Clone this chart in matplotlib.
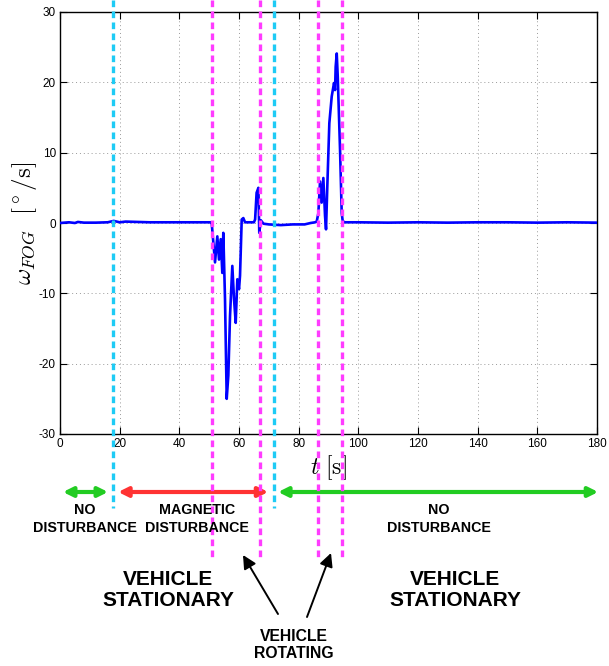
import numpy as np
import matplotlib
matplotlib.use("Agg")
import matplotlib.pyplot as plt
import matplotlib.transforms as mtransforms

# gyro rate (time in s, rate in deg/s)
t = [0, 3, 5, 6, 8, 12, 16, 18, 18.5, 20, 22, 30, 40, 50.5,
     50.85, 51.96, 52.73, 53.30, 53.87, 54.41, 54.74, 55.31, 55.88, 56.42,
     56.99, 57.76, 58.33, 58.90, 59.44, 60.01, 60.34, 60.91, 61.45, 62.02,
     65.0, 65.4, 65.9, 66.5, 66.8, 67.3, 68.2, 70, 74, 78, 80, 82, 84, 85.5,
     86.05, 86.6, 87.16, 87.7, 88.27, 88.84, 89.17, 89.6, 90.28, 91.08,
     91.85, 92.2, 92.4, 92.76, 93.1, 93.87, 94.43, 94.77, 95.5,
     100, 110, 120, 130, 140, 150, 160, 170, 180]
w = [0.0, 0.1, 0.0, 0.15, 0.05, 0.05, 0.1, 0.3, 0.25, 0.1, 0.2, 0.1, 0.1, 0.1,
     0.0, -5.6, -1.9, -5.2, -2.3, -7.1, -1.4, -10.8, -25.0, -21.7,
     -13.2, -6.1, -10.8, -14.2, -8.0, -9.4, -7.5, 0.5, 0.7, 0.1,
     0.1, 0.5, 4.3, 5.0, -1.4, 0.4, -0.1, -0.2, -0.3, -0.2, -0.2, -0.2, 0.0, 0.1,
     0.2, 1.4, 5.9, 2.9, 6.4, 1.0, -0.9, 5.2, 14.2, 18.0,
     19.9, 18.9, 22.2, 24.1, 20.8, 10.4, 1.4, 0.25, 0.1,
     0.1, 0.05, 0.1, 0.05, 0.1, 0.1, 0.05, 0.1, 0.05]

cyan_t = [17.9, 71.6]
magenta_t = [51.05, 67.05, 86.4, 94.4]

# horizontal arrows: (start, end, colour)
spans = [(1.0, 16.1, "#22cc22"), (19.5, 69.8, "#ff3333"), (73.1, 180.4, "#22cc22")]

plt.rcParams["mathtext.fontset"] = "cm"
plt.rcParams["axes.unicode_minus"] = False

W, H = 609, 666
fig = plt.figure(figsize=(W / 100, H / 100), dpi=100)
ax = fig.add_axes([60 / W, 1 - 434 / H, 537 / W, 422 / H])

ax.plot(t, w, color="#0000ff", lw=1.9, zorder=3)

ax.set_xlim(0, 180)
ax.set_ylim(-30, 30)
ax.set_xticks(np.arange(0, 181, 20))
ax.set_yticks(np.arange(-30, 31, 10))
ax.grid(True, linestyle=(0, (1, 3)), color="#999999", lw=0.7)
ax.tick_params(direction="in", top=True, right=True, length=5, width=0.8,
               labelsize=8.5, pad=3)
for lab in ax.get_xticklabels() + ax.get_yticklabels():
    lab.set_family("Liberation Sans")
for s in ax.spines.values():
    s.set_linewidth(1.0)

ax.set_xlabel(r"$t\ [\mathrm{s}]$", fontsize=17, labelpad=2)
ax.set_ylabel(r"$\omega_{FOG}\ \ [^\circ/\mathrm{s}]$", fontsize=18, labelpad=0)

# px -> axes fraction for the blended x-data / y-axes transform
def ay(py):
    return (434 - py) / 422.0

trans = mtransforms.blended_transform_factory(ax.transData, ax.transAxes)
dash = (0, (2.0, 1.3))
for x in cyan_t:
    ax.plot([x, x], [ay(0), ay(508)], transform=trans, color="#1ecbf5",
            lw=2.4, linestyle=dash, clip_on=False, zorder=4)
for x in magenta_t:
    ax.plot([x, x], [ay(0), ay(557)], transform=trans, color="#ff3cff",
            lw=2.4, linestyle=dash, clip_on=False, zorder=4)

for a, b, c in spans:
    ax.annotate("", xy=(b, ay(492)), xytext=(a, ay(492)), xycoords=trans,
                textcoords=trans,
                arrowprops=dict(arrowstyle="<|-|>", color=c, lw=3,
                                mutation_scale=14, shrinkA=0, shrinkB=0),
                annotation_clip=False)

def fx(px):
    return px / W

def fy(py):
    return 1 - py / H

bold = dict(family="Liberation Sans", weight="bold", ha="center", va="center",
            multialignment="center")
fig.text(fx(85), fy(519), "NO\nDISTURBANCE", fontsize=10.3, linespacing=1.3, **bold)
fig.text(fx(197), fy(519), "MAGNETIC\nDISTURBANCE", fontsize=10.3, linespacing=1.3, **bold)
fig.text(fx(438.5), fy(519), "NO\nDISTURBANCE", fontsize=10.3, linespacing=1.3, **bold)
fig.text(fx(168), fy(590), "VEHICLE\nSTATIONARY", fontsize=15, linespacing=1.15, **bold)
fig.text(fx(455), fy(590), "VEHICLE\nSTATIONARY", fontsize=15, linespacing=1.15, **bold)
fig.text(fx(294), fy(645), "VEHICLE\nROTATING", fontsize=11.3, linespacing=1.1, **bold)

for tail, tip in [((278, 614), (243, 555)), ((307, 617), (331, 553))]:
    fig.add_artist(plt.Annotation(
        "", xy=(fx(tip[0]), fy(tip[1])), xytext=(fx(tail[0]), fy(tail[1])),
        xycoords="figure fraction", textcoords="figure fraction",
        arrowprops=dict(arrowstyle="-|>", color="black", lw=1.4,
                        mutation_scale=20, shrinkA=0, shrinkB=0)))

fig.savefig("out.png", dpi=100)
